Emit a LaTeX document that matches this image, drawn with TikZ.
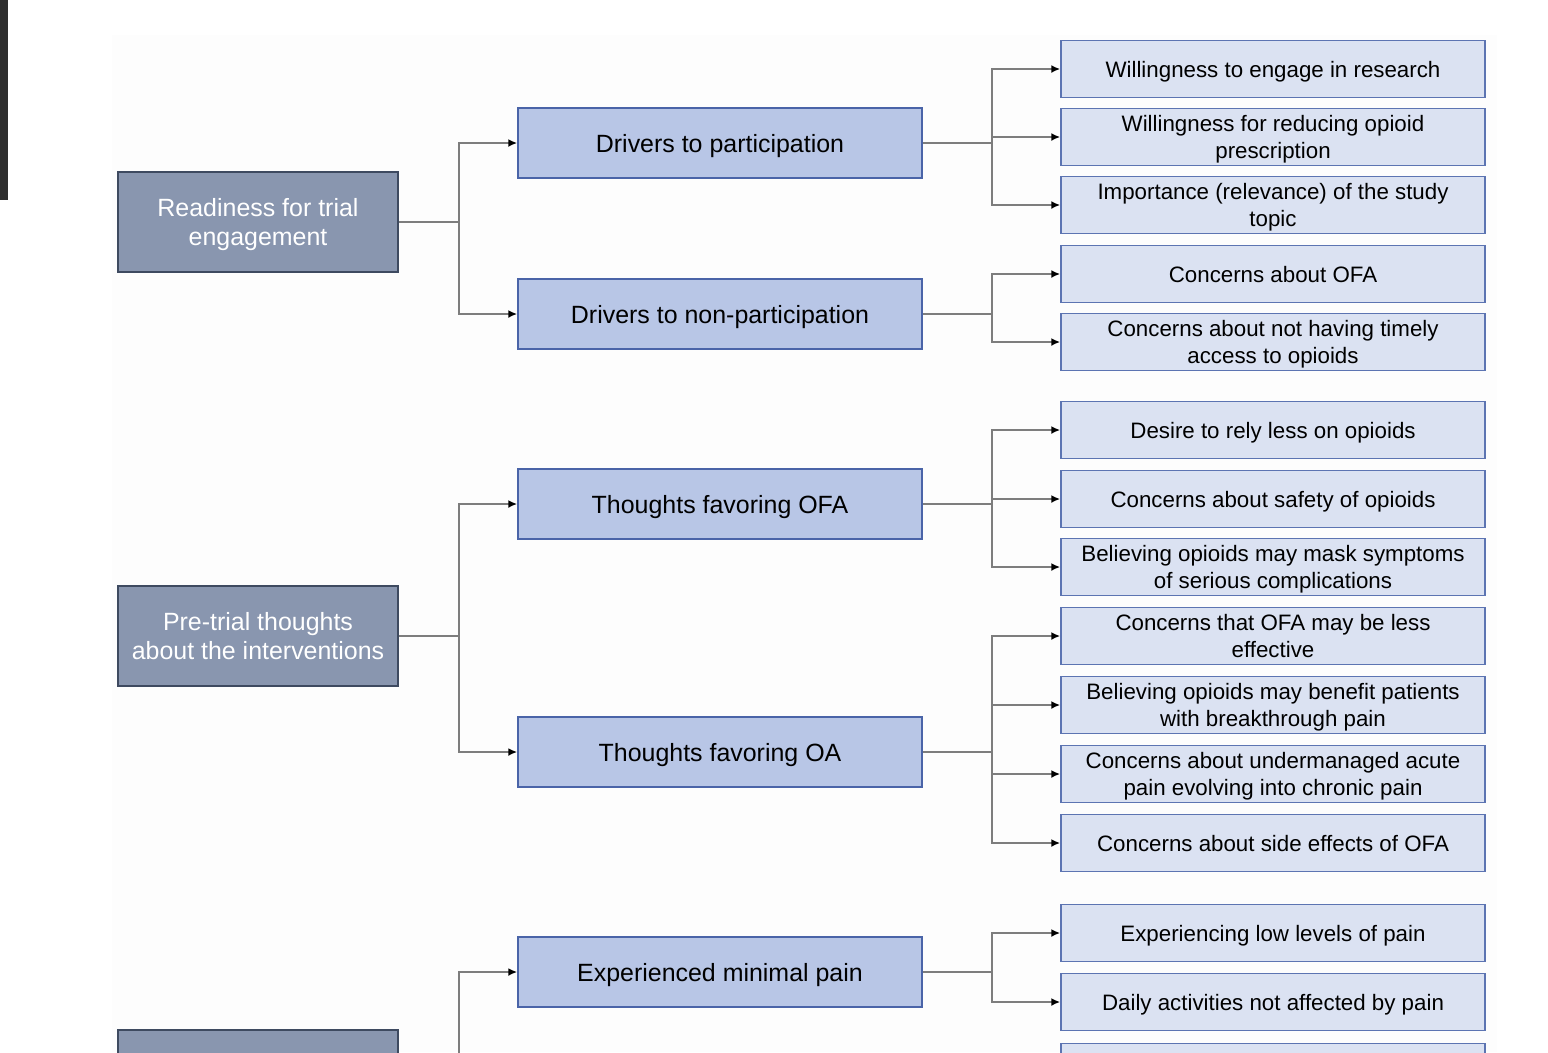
\documentclass[tikz,border=0pt]{standalone}
\usepackage{fontspec}
\setmainfont{Liberation Sans}
\usetikzlibrary{arrows.meta}

\definecolor{rootfill}{RGB}{137,150,175}
\definecolor{rootline}{RGB}{62,74,96}
\definecolor{midfill}{RGB}{184,198,230}
\definecolor{midline}{RGB}{74,100,168}
\definecolor{leaffill}{RGB}{219,226,242}
\definecolor{leafline}{RGB}{92,116,178}
\definecolor{linkgray}{RGB}{125,125,125}

\tikzset{
  rootbox/.style={draw=rootline, line width=1.1pt, fill=rootfill, text=white,
    minimum width=5.6cm, minimum height=2cm, inner sep=0pt, align=center,
    text depth=0pt, font=\fontsize{14.2}{17}\selectfont},
  midbox/.style={draw=midline, line width=1.1pt, fill=midfill,
    minimum width=8.08cm, minimum height=1.4cm, inner sep=0pt, align=center,
    text depth=0pt, font=\fontsize{14.2}{17}\selectfont},
  leafbox/.style={draw=leafline, line width=1.1pt, fill=leaffill,
    minimum width=8.48cm, minimum height=1.14cm, inner sep=0pt, align=center,
    text depth=0pt, font=\fontsize{12.7}{15.3}\selectfont},
  link/.style={draw=linkgray, line width=0.85pt, -{Latex[black,length=5pt,width=4.5pt]}},
}

\begin{document}
\begin{tikzpicture}[x=0.02cm, y=0.02cm]
\useasboundingbox (0,0) rectangle (1548,-1052);
\clip (0,0) rectangle (1548,-1052);
\fill[white] (0,0) rectangle (1548,-1052);
\fill[black!0.6] (112,-35) rectangle (1497,-1052);
\fill[black!82] (0,0) rectangle (8,-200);

% first column
\node[rootbox] (ready) at (258,-222) {Readiness for trial\\engagement};
\node[rootbox] (pretrial) at (258,-636) {Pre-trial thoughts\\about the interventions};
\node[rootbox] (nextroot) at (258,-1080) {};

% second column
\node[midbox] (drvp) at (720,-143) {Drivers to participation};
\node[midbox] (drvn) at (720,-314) {Drivers to non-participation};
\node[midbox] (favofa) at (720,-504) {Thoughts favoring OFA};
\node[midbox] (favoa) at (720,-752) {Thoughts favoring OA};
\node[midbox] (minpain) at (720,-972) {Experienced minimal pain};

% third column
\node[leafbox] (engage) at (1273,-69) {Willingness to engage in research};
\node[leafbox] (reduce) at (1273,-137) {Willingness for reducing opioid\\prescription};
\node[leafbox] (topic) at (1273,-205) {Importance (relevance) of the study\\topic};
\node[leafbox] (aboutofa) at (1273,-274) {Concerns about OFA};
\node[leafbox] (access) at (1273,-342) {Concerns about not having timely\\access to opioids};
\node[leafbox] (relyless) at (1273,-430) {Desire to rely less on opioids};
\node[leafbox] (safety) at (1273,-499) {Concerns about safety of opioids};
\node[leafbox] (mask) at (1273,-567) {Believing opioids may mask symptoms\\of serious complications};
\node[leafbox] (lesseff) at (1273,-636) {Concerns that OFA may be less\\effective};
\node[leafbox] (breakthr) at (1273,-705) {Believing opioids may benefit patients\\with breakthrough pain};
\node[leafbox] (chronic) at (1273,-774) {Concerns about undermanaged acute\\pain evolving into chronic pain};
\node[leafbox] (sideeff) at (1273,-843) {Concerns about side effects of OFA};
\node[leafbox] (lowpain) at (1273,-933) {Experiencing low levels of pain};
\node[leafbox] (daily) at (1273,-1002) {Daily activities not affected by pain};
\node[leafbox] (nextleaf) at (1273,-1072) {};

% root to middle
\draw[link] (ready.east) -- ++(60,0) |- (drvp.west);
\draw[link] (ready.east) -- ++(60,0) |- (drvn.west);
\draw[link] (pretrial.east) -- ++(60,0) |- (favofa.west);
\draw[link] (pretrial.east) -- ++(60,0) |- (favoa.west);
\draw[link] (nextroot.east) -- ++(60,0) |- (minpain.west);

% middle to leaves
\draw[link] (drvp.east) -- ++(69,0) |- (engage.west);
\draw[link] (drvp.east) -- ++(69,0) |- (reduce.west);
\draw[link] (drvp.east) -- ++(69,0) |- (topic.west);
\draw[link] (drvn.east) -- ++(69,0) |- (aboutofa.west);
\draw[link] (drvn.east) -- ++(69,0) |- (access.west);
\draw[link] (favofa.east) -- ++(69,0) |- (relyless.west);
\draw[link] (favofa.east) -- ++(69,0) |- (safety.west);
\draw[link] (favofa.east) -- ++(69,0) |- (mask.west);
\draw[link] (favoa.east) -- ++(69,0) |- (lesseff.west);
\draw[link] (favoa.east) -- ++(69,0) |- (breakthr.west);
\draw[link] (favoa.east) -- ++(69,0) |- (chronic.west);
\draw[link] (favoa.east) -- ++(69,0) |- (sideeff.west);
\draw[link] (minpain.east) -- ++(69,0) |- (lowpain.west);
\draw[link] (minpain.east) -- ++(69,0) |- (daily.west);
\end{tikzpicture}
\end{document}
